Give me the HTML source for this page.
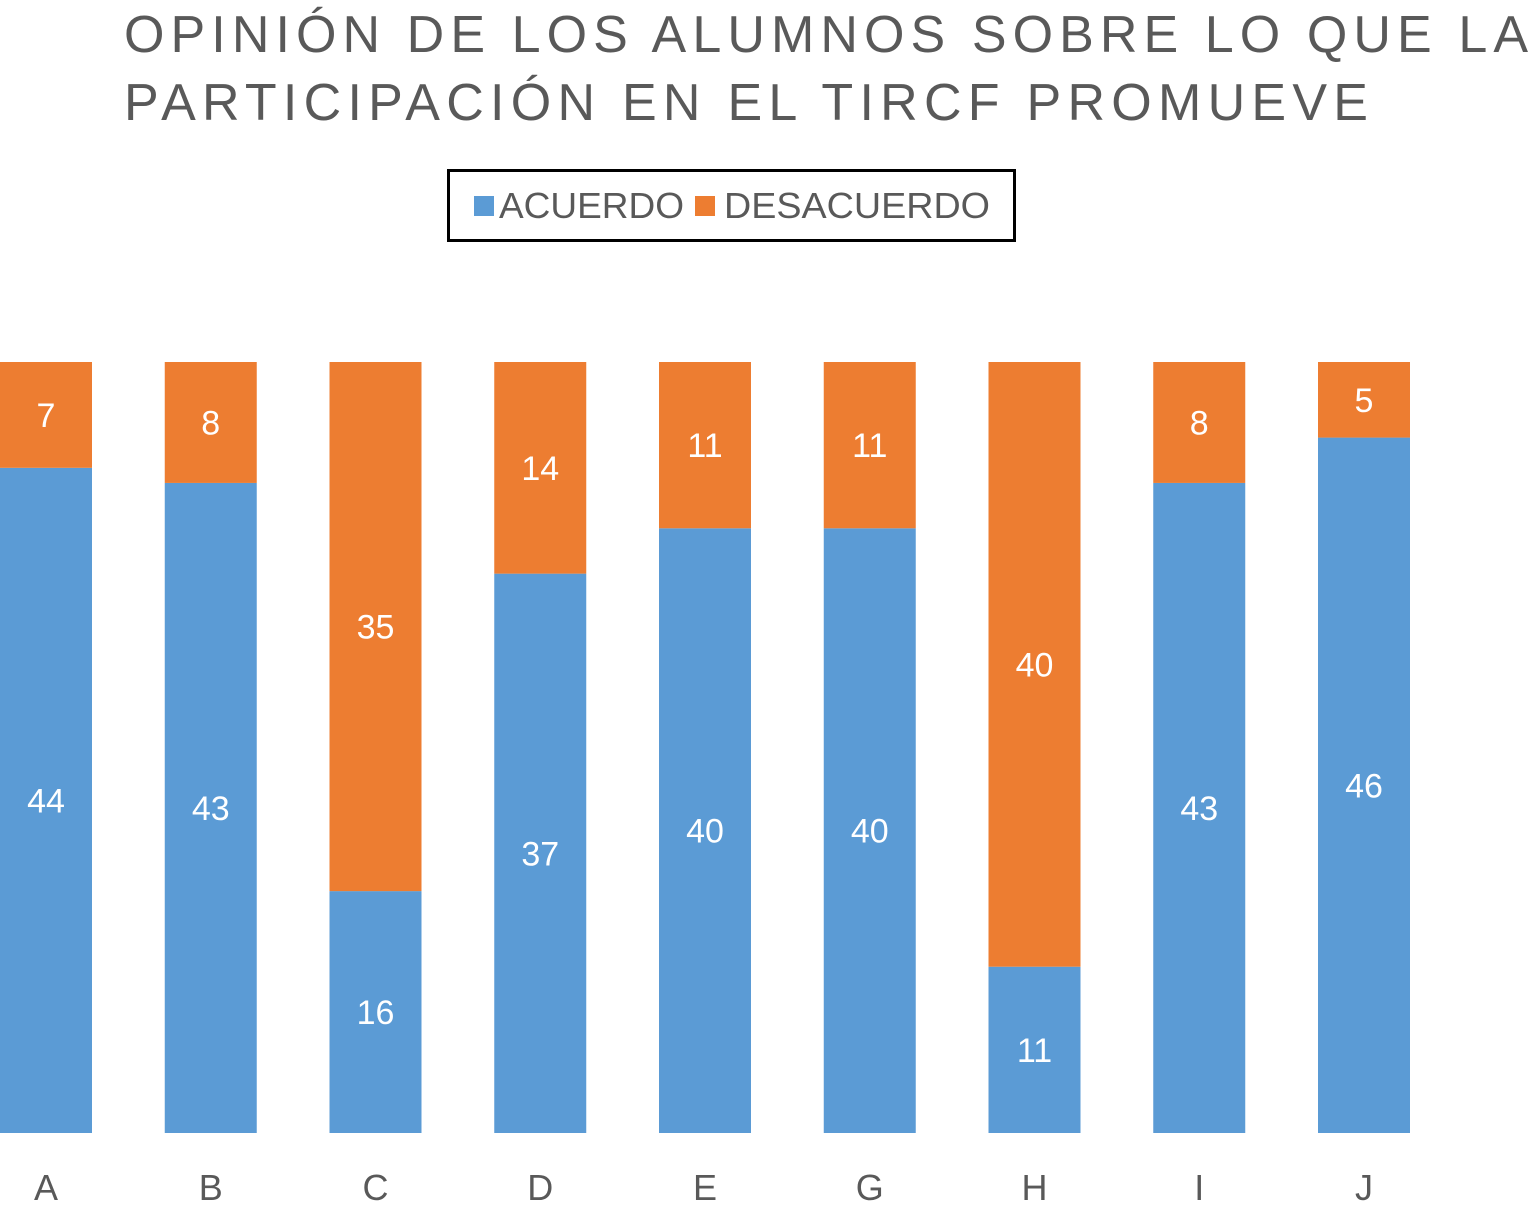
<!DOCTYPE html>
<html><head><meta charset="utf-8"><style>
body{margin:0;background:#fff;}
svg{display:block;font-family:"Liberation Sans",Arial,sans-serif;}
</style></head><body>
<svg id="chart" width="1534" height="1209">
<text x="124" y="52" font-size="52" fill="#595959" textLength="1404" lengthAdjust="spacing">OPINIÓN DE LOS ALUMNOS SOBRE LO QUE LA</text>
<text x="124" y="120" font-size="52" fill="#595959" textLength="1244" lengthAdjust="spacing">PARTICIPACIÓN EN EL TIRCF PROMUEVE</text>
<g>
<rect x="448.5" y="170.5" width="566" height="70" fill="#fff" stroke="#000" stroke-width="3"/>
<rect x="474" y="196" width="20" height="20" fill="#5B9BD5"/>
<text x="499" y="218" font-size="36" fill="#595959" textLength="185" lengthAdjust="spacingAndGlyphs">ACUERDO</text>
<rect x="695" y="196" width="20" height="20" fill="#ED7D31"/>
<text x="724" y="218" font-size="36" fill="#595959" textLength="266" lengthAdjust="spacingAndGlyphs">DESACUERDO</text>
</g>
<g id="plot"></g>
</svg>
<script>
const categories=["A","B","C","D","E","G","H","I","J"];
const acuerdo=[44,43,16,37,40,40,11,43,46];
const desacuerdo=[7,8,35,14,11,11,40,8,5];
const NS="http://www.w3.org/2000/svg";
const plot=document.getElementById("plot");
const top0=362,bottom0=1133,first=46,step=164.75,bw=92;
function xc(i){return first+i*step;}
function y(frac){return bottom0-(bottom0-top0)*frac;}
function mk(tag,attrs){const e=document.createElementNS(NS,tag);for(const k in attrs)e.setAttribute(k,attrs[k]);plot.appendChild(e);return e;}
categories.forEach((c,i)=>{
 const tot=acuerdo[i]+desacuerdo[i];
 const fa=acuerdo[i]/tot;
 const x=xc(i)-bw/2;
 const b=mk("rect",{x:x,y:y(fa),width:bw,height:bottom0-y(fa),fill:"#5B9BD5"});
 
 
 const o=mk("rect",{x:x,y:top0,width:bw,height:y(fa)-top0,fill:"#ED7D31"});
 
 
 const t1=mk("text",{x:xc(i),y:(y(fa)+bottom0)/2+12,"font-size":34,fill:"#fff","text-anchor":"middle"});
 t1.textContent=acuerdo[i];
 
 
 const t2=mk("text",{x:xc(i),y:(y(fa)+top0)/2+12,"font-size":34,fill:"#fff","text-anchor":"middle"});
 t2.textContent=desacuerdo[i];
 
 
 const l=mk("text",{x:xc(i),y:1200,"font-size":36,fill:"#595959","text-anchor":"middle"});
 l.textContent=c;
 
 
});
</script>
</body></html>
